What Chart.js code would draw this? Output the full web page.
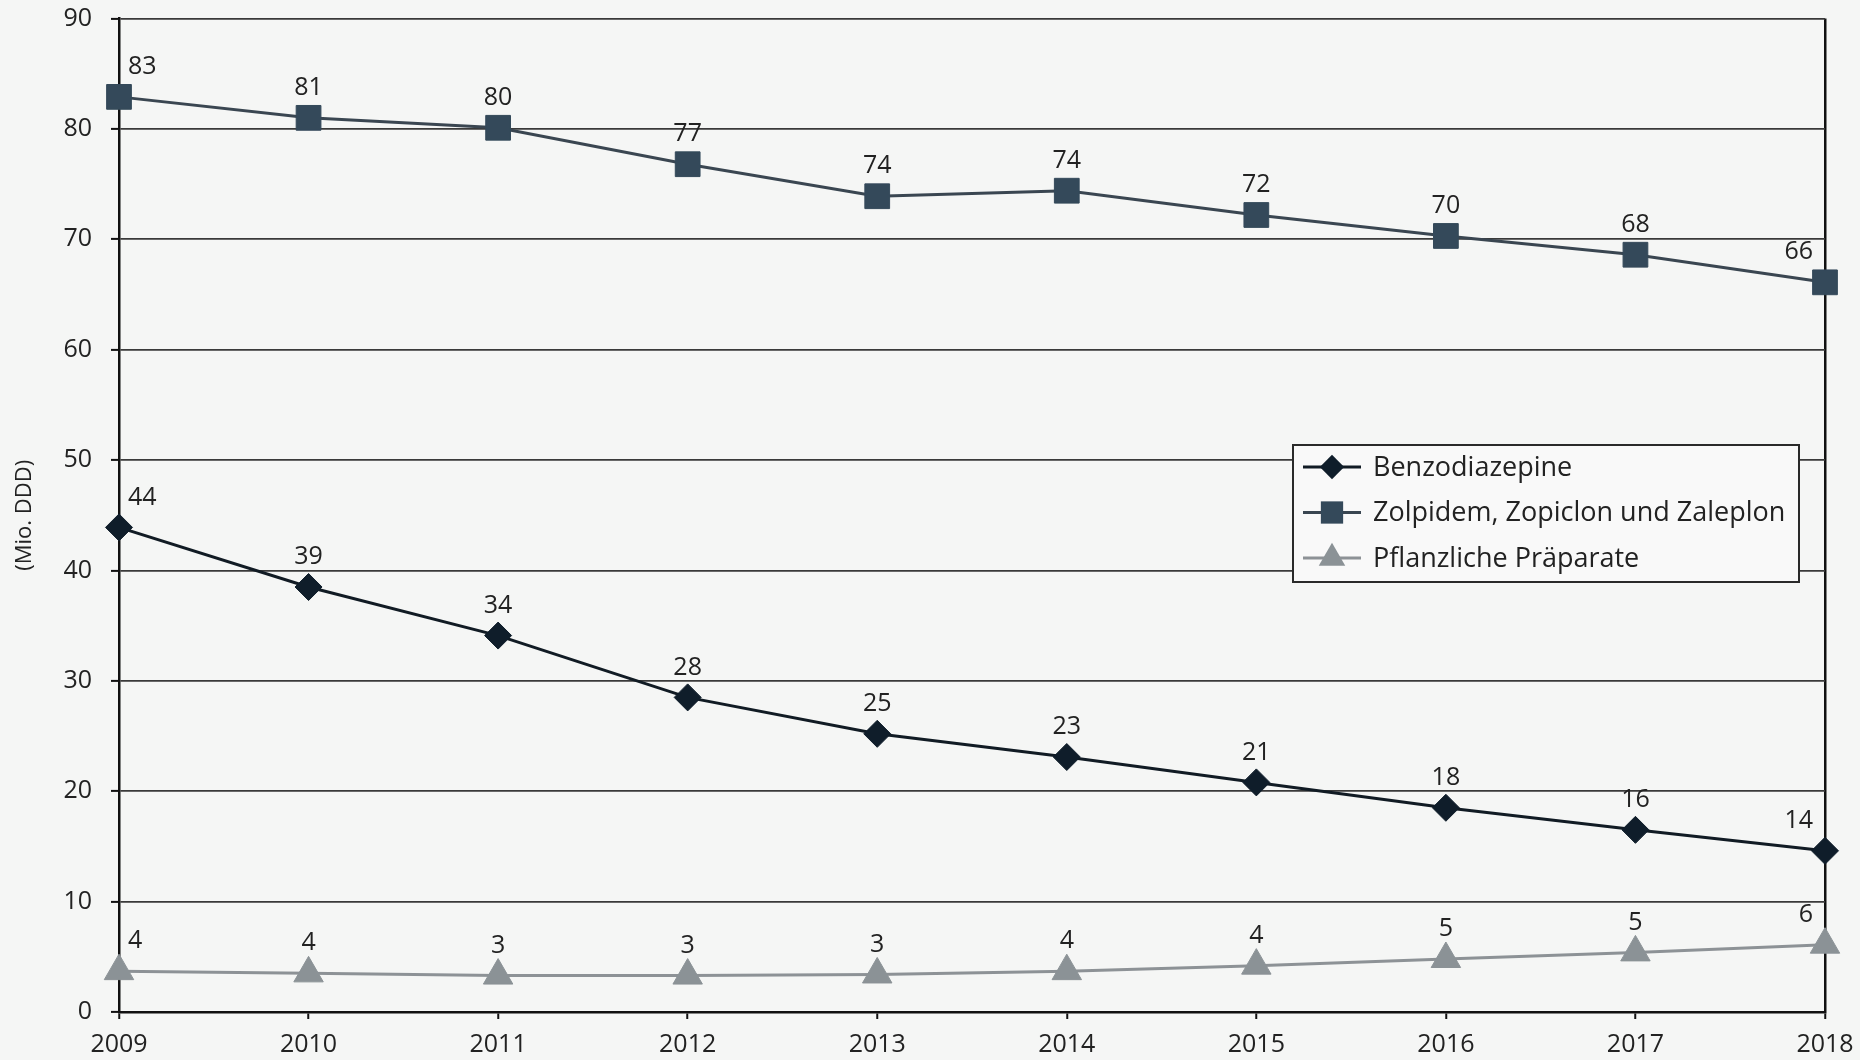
<!DOCTYPE html>
<html>
<head>
<meta charset="utf-8">
<script src="https://cdn.jsdelivr.net/npm/chart.js@4.4.1/dist/chart.umd.min.js"></script>
<style>
  html, body { margin: 0; padding: 0; background: #f5f6f5; }
  #wrap { width: 1860px; height: 1060px; position: relative; }
</style>
</head>
<body>
<div id="wrap"><canvas id="c" width="1860" height="1060"></canvas></div>
<script>
const years = ['2009', '2010', '2011', '2012', '2013', '2014', '2015', '2016', '2017', '2018'];

const seriesNames = ['Benzodiazepine', 'Zolpidem, Zopiclon und Zaleplon', 'Pflanzliche Präparate'];

const benzoValues = [43.9, 38.5, 34.1, 28.5, 25.2, 23.1, 20.8, 18.5, 16.5, 14.6];
const benzoLabels = ['44', '39', '34', '28', '25', '23', '21', '18', '16', '14'];

const zolpidemValues = [82.9, 81.0, 80.1, 76.8, 73.9, 74.4, 72.2, 70.3, 68.6, 66.1];
const zolpidemLabels = ['83', '81', '80', '77', '74', '74', '72', '70', '68', '66'];

const pflanzValues = [3.7, 3.5, 3.3, 3.3, 3.4, 3.7, 4.2, 4.8, 5.4, 6.1];
const pflanzLabels = ['4', '4', '3', '3', '3', '4', '4', '5', '5', '6'];

const yMin = 0, yMax = 90, yStep = 10;
const yTitle = '(Mio. DDD)';

const FONT = '"Open Sans", "Noto Sans", sans-serif';
const TEXT = '#222';

const styles = [
  { line: '#111b24', fill: '#0f1d2a', shape: 'rectRot', r: 13.5 },
  { line: '#3a4651', fill: '#34495a', shape: 'rect', r: 17.5 },
  { line: '#8d9296', fill: '#8b9296', shape: 'triangle', r: 17 }
];
const valueLabels = [benzoLabels, zolpidemLabels, pflanzLabels];

function shapePath(ctx, shape, x, y, r) {
  ctx.beginPath();
  if (shape === 'rectRot') {
    ctx.moveTo(x - r, y); ctx.lineTo(x, y - r); ctx.lineTo(x + r, y); ctx.lineTo(x, y + r);
  } else if (shape === 'rect') {
    const s = Math.SQRT1_2 * r;
    ctx.rect(x - s, y - s, 2 * s, 2 * s);
  } else {
    const a = 2 * Math.PI / 3;
    ctx.moveTo(x, y - r);
    ctx.lineTo(x + Math.sin(a) * r, y - Math.cos(a) * r);
    ctx.lineTo(x + Math.sin(2 * a) * r, y - Math.cos(2 * a) * r);
  }
  ctx.closePath();
}

const labelPlugin = {
  id: 'valueLabels',
  afterDatasetsDraw(chart) {
    const ctx = chart.ctx;
    ctx.save();
    ctx.font = '25px ' + FONT;
    ctx.fillStyle = TEXT;
    ctx.textBaseline = 'middle';
    chart.data.datasets.forEach((ds, di) => {
      const meta = chart.getDatasetMeta(di);
      meta.data.forEach((pt, i) => {
        const n = meta.data.length;
        let x = pt.x;
        if (i === 0) { ctx.textAlign = 'left'; x = pt.x + 9; }
        else if (i === n - 1) { ctx.textAlign = 'right'; x = pt.x - 12; }
        else { ctx.textAlign = 'center'; }
        ctx.fillText(valueLabels[di][i], x, pt.y - 30);
      });
    });
    ctx.restore();
  }
};

const legendPlugin = {
  id: 'boxLegend',
  afterDraw(chart) {
    const ctx = chart.ctx;
    const bx = 1293, by = 445, bw = 506, bh = 137;
    ctx.save();
    ctx.fillStyle = '#f9f9f9';
    ctx.fillRect(bx, by, bw, bh);
    ctx.strokeStyle = '#2a2a2a';
    ctx.lineWidth = 2;
    ctx.strokeRect(bx, by, bw, bh);
    ctx.font = '27px ' + FONT;
    ctx.textAlign = 'left';
    ctx.textBaseline = 'middle';
    chart.data.datasets.forEach((ds, di) => {
      const st = styles[di];
      const cy = 467 + di * 45.5;
      ctx.strokeStyle = st.line;
      ctx.lineWidth = 3;
      ctx.beginPath(); ctx.moveTo(1303, cy); ctx.lineTo(1361, cy); ctx.stroke();
      ctx.fillStyle = st.fill;
      shapePath(ctx, st.shape, 1332, cy, st.r * 0.9);
      ctx.fill();
      ctx.fillStyle = TEXT;
      ctx.fillText(ds.label, 1373, cy + 1);
    });
    ctx.restore();
  }
};

const dataSets = [benzoValues, zolpidemValues, pflanzValues].map((vals, i) => ({
  label: seriesNames[i],
  data: vals,
  borderColor: styles[i].line,
  borderWidth: 3,
  backgroundColor: styles[i].fill,
  pointStyle: styles[i].shape,
  pointRadius: styles[i].r,
  pointHoverRadius: styles[i].r,
  pointBackgroundColor: styles[i].fill,
  pointBorderColor: styles[i].fill,
  pointBorderWidth: 1,
  tension: 0,
  fill: false,
  clip: false
}));

function noScalePadding(s) {
  s.paddingLeft = 0; s.paddingRight = 0; s.paddingTop = 0; s.paddingBottom = 0;
}

new Chart(document.getElementById('c'), {
  type: 'line',
  data: { labels: years, datasets: dataSets },
  options: {
    responsive: false,
    animation: false,
    devicePixelRatio: 1,
    events: [],
    layout: { padding: { top: 18, right: 35, bottom: 0, left: 0 } },
    plugins: { legend: { display: false }, tooltip: { enabled: false } },
    scales: {
      x: {
        offset: false,
        border: { display: true, color: '#111', width: 2.5 },
        grid: {
          drawOnChartArea: true,
          color: (c) => (c.index === years.length - 1 ? '#111' : 'rgba(0,0,0,0)'),
          lineWidth: 2.5,
          tickColor: '#111',
          tickLength: 7,
          tickWidth: 2
        },
        ticks: { color: TEXT, font: { family: FONT, size: 25 }, padding: 11, maxRotation: 0, autoSkip: false },
        afterFit: (s) => { s.height = 48; noScalePadding(s); }
      },
      y: {
        min: yMin, max: yMax,
        border: { display: true, color: '#111', width: 2.5 },
        grid: {
          color: '#3a3a3a',
          lineWidth: 1.8,
          tickColor: '#111',
          tickLength: 8,
          tickWidth: 2
        },
        ticks: { stepSize: yStep, color: TEXT, font: { family: FONT, size: 25 }, padding: 19 },
        title: { display: true, text: yTitle, color: TEXT, font: { family: FONT, size: 22 }, padding: { top: 12, bottom: 4 } },
        afterFit: (s) => { s.width = 119; noScalePadding(s); }
      }
    }
  },
  plugins: [labelPlugin, legendPlugin]
});
</script>
</body>
</html>
